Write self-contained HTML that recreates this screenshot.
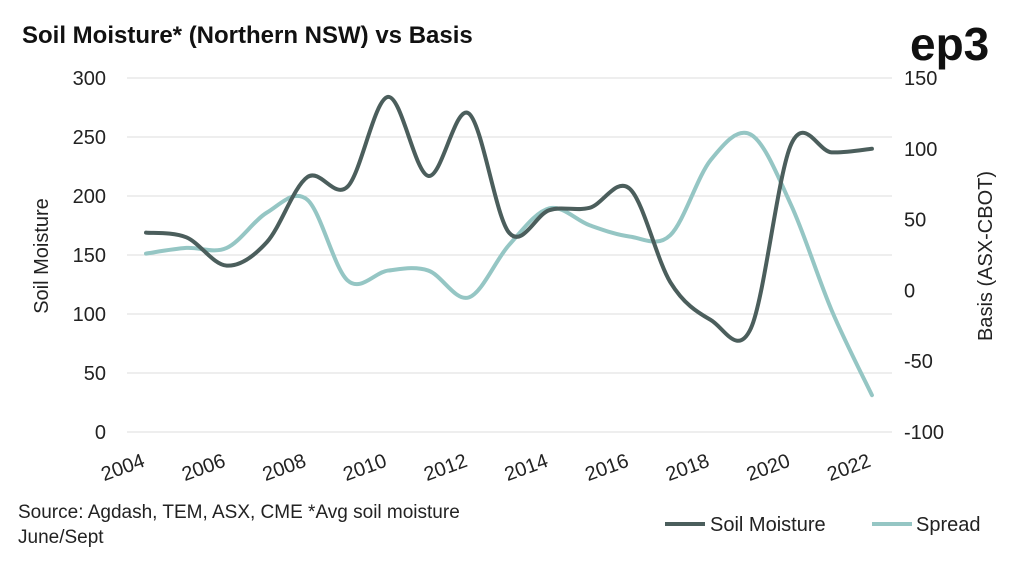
<!DOCTYPE html>
<html><head><meta charset="utf-8"><style>
body{margin:0;background:#fff;}
svg{display:block;font-family:"Liberation Sans",sans-serif;}
</style></head><body>
<svg id="chart" width="1024" height="561" viewBox="0 0 1024 561">
<text x="22" y="43" font-size="24" font-weight="bold" fill="#111">Soil Moisture* (Northern NSW) vs Basis</text>
<text x="910" y="60" font-size="46" font-weight="bold" fill="#111">ep3</text>
<g id="grid"></g><g id="lines"></g>
<text transform="translate(48,256) rotate(-90)" text-anchor="middle" font-size="20" fill="#222">Soil Moisture</text>
<text transform="translate(992,256) rotate(-90)" text-anchor="middle" font-size="20" fill="#222">Basis (ASX-CBOT)</text>
<text x="18" y="518" font-size="19" fill="#222">Source: Agdash, TEM, ASX, CME *Avg soil moisture</text>
<text x="18" y="543" font-size="19" fill="#222">June/Sept</text>
<g><line x1="665" y1="524" x2="705" y2="524" stroke="#4b5e5c" stroke-width="4"/><text x="710" y="531" font-size="20" fill="#222">Soil Moisture</text></g>
<g><line x1="872" y1="524" x2="912" y2="524" stroke="#95c6c4" stroke-width="4"/><text x="916" y="531" font-size="20" fill="#222">Spread</text></g>
</svg>
<script>
const years=[2004,2005,2006,2007,2008,2009,2010,2011,2012,2013,2014,2015,2016,2017,2018,2019,2020,2021,2022];
const soil=[169,165,141,161,216,208,284,217,270,169,188,190,206,127,95,88,244,237,240];
const spread=[26,30,30,55,64,7,14,14,-5,32,58,46,38,39,92,110,60,-14,-74];
const leftTicks=[0,50,100,150,200,250,300];
const rightTicks=[-100,-50,0,50,100,150];
const xLabels=[2004,2006,2008,2010,2012,2014,2016,2018,2020,2022];
const NS="http://www.w3.org/2000/svg";
const x=y=>146+(y-2004)*40.33;
const yl=v=>432-v*1.18;
const yr=v=>290.4-v*1.416;
const g=document.getElementById('grid'),L=document.getElementById('lines');
function mk(t,a,p){const e=document.createElementNS(NS,t);for(const k in a)e.setAttribute(k,a[k]);p.appendChild(e);return e;}
leftTicks.forEach(v=>{
 const l=mk('line',{x1:127,x2:892,y1:yl(v),y2:yl(v),stroke:'#ddd','stroke-width':1},g);
 
 
 const t=mk('text',{x:106,y:yl(v)+7,'text-anchor':'end','font-size':20,fill:'#222'},g);t.textContent=v;
 
 
});
rightTicks.forEach(v=>{
 const t=mk('text',{x:904,y:yr(v)+7,'font-size':20,fill:'#222'},g);t.textContent=v;
 
 
});
xLabels.forEach(v=>{
 const t=mk('text',{transform:`translate(${x(v)},${466}) rotate(-20)`,'text-anchor':'end','font-size':20,fill:'#222'},g);t.textContent=v;
 
 
});
function path(pts){let d=`M${pts[0][0]},${pts[0][1]}`;for(let i=0;i<pts.length-1;i++){const p0=pts[i-1]||pts[i],p1=pts[i],p2=pts[i+1],p3=pts[i+2]||p2;
 d+=` C${p1[0]+(p2[0]-p0[0])/6},${p1[1]+(p2[1]-p0[1])/6} ${p2[0]-(p3[0]-p1[0])/6},${p2[1]-(p3[1]-p1[1])/6} ${p2[0]},${p2[1]}`;}return d;}
const p1=mk('path',{d:path(years.map((y,i)=>[x(y),yr(spread[i])])),fill:'none',stroke:'#95c6c4','stroke-width':4,'stroke-linecap':'round'},L);


const p2=mk('path',{d:path(years.map((y,i)=>[x(y),yl(soil[i])])),fill:'none',stroke:'#4b5e5c','stroke-width':4,'stroke-linecap':'round'},L);


</script>
</body></html>
